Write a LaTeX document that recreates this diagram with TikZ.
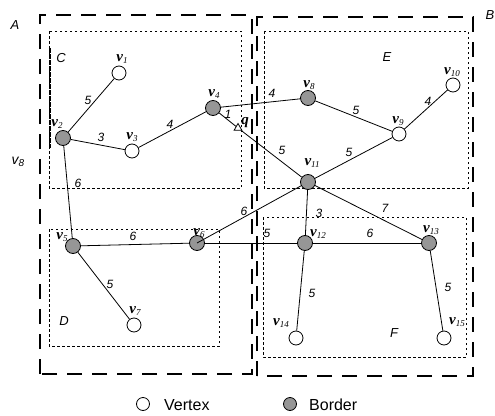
\documentclass[tikz,border=0pt]{standalone}
\usepackage{fontspec}
\setmainfont{Liberation Serif}
\setsansfont{Liberation Sans}
\usetikzlibrary{shapes.geometric}
\definecolor{bordergray}{RGB}{150,150,150}
\newcommand{\vlab}[1]{{\bfseries\itshape v}\raisebox{-2.5pt}{\fontsize{9}{9}\selectfont\itshape #1}}
\tikzset{
  vtx/.style={circle, draw, fill=white, minimum size=14pt, inner sep=0pt, line width=0.8pt},
  brd/.style={circle, draw, fill=bordergray, minimum size=15pt, inner sep=0pt, line width=0.8pt},
  edgeline/.style={line width=0.8pt},
  wt/.style={font=\sffamily\itshape\fontsize{12}{12}\selectfont, inner sep=0pt},
  vl/.style={font=\fontsize{15}{15}\selectfont, inner sep=0pt},
  region/.style={font=\sffamily\itshape\fontsize{13}{13}\selectfont, inner sep=0pt},
  outerbox/.style={line width=1.1pt, dash pattern=on 15pt off 10pt},
  innerbox/.style={line width=0.9pt, dash pattern=on 2.5pt off 2.5pt},
  legendtext/.style={font=\sffamily\fontsize{16}{16}\selectfont, anchor=west, inner sep=0pt}
}
\begin{document}
\begin{tikzpicture}[x=1pt, y=-1pt]
\useasboundingbox (0,0) rectangle (495,415);

% partitions A and B
\draw[outerbox] (40,374) -- (40,15) -- (252,15) -- (252,374) -- cycle;
\draw[outerbox] (257,376) -- (257,17) -- (473,17) -- (473,376) -- cycle;

% sub-regions C, D, E, F
\draw[innerbox] (49,31) rectangle (241,188);
\draw[innerbox] (264,31) rectangle (468,188);
\draw[innerbox] (49,229) rectangle (219,346);
\draw[innerbox] (263,217) rectangle (466,357);
\draw[line width=1.1pt, dash pattern=on 5pt off 1pt] (50,48) -- (50,148);

% region names
\node[region] (lA) at (15,25) {A};
\node[region] (lB) at (490,15) {B};
\node[region] (lC) at (61,58) {C};
\node[region] (lE) at (387,57) {E};
\node[region] (lD) at (64,321) {D};
\node[region] (lF) at (394,333) {F};
\node[font=\sffamily\itshape\fontsize{14}{14}\selectfont, inner sep=0pt] (lv8) at (18,162) {v\raisebox{-2.5pt}{\fontsize{10}{10}\selectfont 8}};

% vertex names (drawn first so the discs sit on top)
\node[vl] (t1) at (122,59) {\vlab{1}};
\node[vl] (t2) at (57,124) {\vlab{2}};
\node[vl] (t3) at (132,137) {\vlab{3}};
\node[vl] (t4) at (214,94) {\vlab{4}};
\node[vl] (t5) at (62,237) {\vlab{5}};
\node[vl] (t6) at (199,233) {\vlab{6}};
\node[vl] (t7) at (135,311) {\vlab{7}};
\node[vl] (t8) at (309,85) {\vlab{8}};
\node[vl] (t9) at (398,121) {\vlab{9}};
\node[vl] (t10) at (452,72) {\vlab{10}};
\node[vl] (t11) at (312,163) {\vlab{11}};
\node[vl] (t12) at (318,234) {\vlab{12}};
\node[vl] (t13) at (431,230) {\vlab{13}};
\node[vl] (t14) at (281,323) {\vlab{14}};
\node[vl] (t15) at (457,322) {\vlab{15}};

% vertices
\node[vtx] (v1) at (119,73) {};
\node[brd] (v2) at (63,138) {};
\node[vtx] (v3) at (132,151) {};
\node[brd] (v4) at (213,108) {};
\node[brd] (v5) at (73,246) {};
\node[brd] (v6) at (197,243) {};
\node[vtx] (v7) at (134,325) {};
\node[brd] (v8) at (308,98) {};
\node[vtx] (v9) at (399,134) {};
\node[vtx] (v10) at (453,85) {};
\node[brd] (v11) at (308,182) {};
\node[brd] (v12) at (305,243) {};
\node[brd] (v13) at (429,243) {};
\node[vtx] (v14) at (296,338) {};
\node[vtx] (v15) at (444,338) {};

% query point
\node[regular polygon, regular polygon sides=3, draw, line width=0.8pt, minimum size=9pt, inner sep=0pt, fill=white] (q) at (238,128) {};
\node[font=\bfseries\itshape\fontsize{15}{15}\selectfont, inner sep=0pt] (tq) at (245,123) {q};

% edges
\draw[edgeline] (v1) -- (v2);
\draw[edgeline] (v2) -- (v3);
\draw[edgeline] (v3) -- (v4);
\draw[edgeline] (v4) -- (v8);
\draw[edgeline] (v4) -- (q);
\draw[edgeline] (q) -- (v11);
\draw[edgeline] (v8) -- (v9);
\draw[edgeline] (v9) -- (v10);
\draw[edgeline] (v9) -- (v11);
\draw[edgeline] (v2) -- (v5);
\draw[edgeline] (v5) -- (v6);
\draw[edgeline] (v5) -- (v7);
\draw[edgeline] (v11) -- (v6.center);
\draw[edgeline] (v6) -- (v12);
\draw[edgeline] (v11) -- (v12);
\draw[edgeline] (v11) -- (v13);
\draw[edgeline] (v12) -- (v13);
\draw[edgeline] (v12) -- (v14);
\draw[edgeline] (v13) -- (v15);

% edge weights
\node[wt] (w12) at (88,100) {5};
\node[wt] (w23) at (101,137) {3};
\node[wt] (w34) at (170,124) {4};
\node[wt] (w4q) at (228,114) {1};
\node[wt] (w48) at (272,93) {4};
\node[wt] (wq11) at (282,150) {5};
\node[wt] (w89) at (356,110) {5};
\node[wt] (w910) at (428,101) {4};
\node[wt] (w911) at (349,152) {5};
\node[wt] (w25) at (78,183) {6};
\node[wt] (w56) at (133,236) {6};
\node[wt] (w57) at (110,284) {5};
\node[wt] (w116) at (244,211) {6};
\node[wt] (w612) at (267,233) {5};
\node[wt] (w1112) at (319,213) {3};
\node[wt] (w1113) at (385,208) {7};
\node[wt] (w1213) at (370,233) {6};
\node[wt] (w1214) at (312,293) {5};
\node[wt] (w1315) at (448,287) {5};

% legend
\node[vtx, minimum size=13pt] (lgv) at (143,404) {};
\node[legendtext] (lgvt) at (164,405) {Vertex};
\node[brd, minimum size=13pt] (lgb) at (290,404) {};
\node[legendtext] (lgbt) at (309,405) {Border};
\end{tikzpicture}
\end{document}
